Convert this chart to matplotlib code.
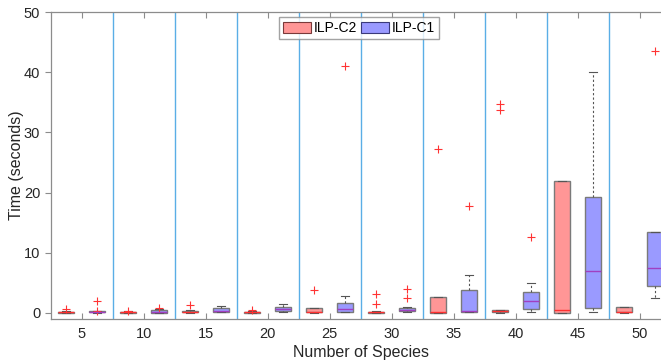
import matplotlib
matplotlib.use("Agg")
import matplotlib.pyplot as plt
from matplotlib.patches import Patch

plt.rcParams['font.family'] = ['Liberation Sans', 'DejaVu Sans']

species = [5, 10, 15, 20, 25, 30, 35, 40, 45, 50]
series_names = ["ILP-C2", "ILP-C1"]

# ILP-C2 box statistics
c2_whislo = [0.0, 0.0, 0.05, 0.0, 0.05, 0.0, 0.05, 0.05, 0.0, 0.05]
c2_q1 = [0.05, 0.05, 0.1, 0.05, 0.1, 0.05, 0.05, 0.1, 0.05, 0.1]
c2_med = [0.1, 0.1, 0.2, 0.1, 0.2, 0.1, 0.1, 0.25, 0.45, 0.15]
c2_q3 = [0.2, 0.2, 0.4, 0.15, 0.8, 0.2, 2.7, 0.5, 22.0, 0.95]
c2_whishi = [0.3, 0.3, 0.55, 0.25, 0.8, 0.25, 2.7, 0.5, 22.0, 0.95]
c2_fliers = [[0.65], [0.3], [1.35], [0.55], [3.8], [3.1, 1.45], [27.2], [34.7, 33.7], [], []]

# ILP-C1 box statistics
c1_whislo = [0.05, 0.05, 0.1, 0.15, 0.1, 0.1, 0.15, 0.17, 0.17, 2.45]
c1_q1 = [0.1, 0.05, 0.15, 0.3, 0.15, 0.25, 0.2, 0.6, 0.85, 4.45]
c1_med = [0.15, 0.2, 0.4, 0.6, 0.6, 0.5, 0.3, 1.95, 6.95, 7.45]
c1_q3 = [0.25, 0.45, 0.75, 0.95, 1.6, 0.85, 3.8, 3.45, 19.2, 13.4]
c1_whishi = [0.3, 0.6, 1.15, 1.45, 2.8, 0.95, 6.25, 4.95, 40.0, 13.4]
c1_fliers = [[2.0, 0.3], [0.9], [], [], [41.1], [4.0, 2.55], [17.8], [12.6], [], [43.6]]


def make_stats(whislo, q1, med, q3, whishi, fliers):
    return [dict(whislo=a, q1=b, med=c, q3=d, whishi=e, fliers=f)
            for a, b, c, d, e, f in zip(whislo, q1, med, q3, whishi, fliers)]


fig = plt.figure(figsize=(6.61, 3.62), dpi=100)
ax = fig.add_axes([50.7 / 661, 43 / 362, 620 / 661, 307 / 362])

offset = 1.25
specs = [
    (make_stats(c2_whislo, c2_q1, c2_med, c2_q3, c2_whishi, c2_fliers), -offset,
     '#ff9696', '#ff3030'),
    (make_stats(c1_whislo, c1_q1, c1_med, c1_q3, c1_whishi, c1_fliers), offset,
     '#9a9aff', '#a040c0'),
]
for stats, off, fc, mc in specs:
    ax.bxp(stats, positions=[s + off for s in species], widths=1.3,
           capwidths=0.6, patch_artist=True, manage_ticks=False,
           boxprops=dict(facecolor=fc, edgecolor='#7a7a7a', linewidth=1.0),
           medianprops=dict(color=mc, linewidth=1.0),
           whiskerprops=dict(color='#555555', linestyle=(0, (2, 2)), linewidth=0.8),
           capprops=dict(color='#555555', linewidth=0.8),
           flierprops=dict(marker='+', markeredgecolor='#ff3333', markersize=6,
                           markeredgewidth=0.8, linestyle='none'))

for s in species[:-1]:
    ax.axvline(s + 2.5, color='#5aaee6', linewidth=1.0, zorder=0)

ax.set_xlim(2.5, 52.5)
ax.set_ylim(-1, 50)
ax.set_xticks(species)
ax.set_yticks([0, 10, 20, 30, 40, 50])
ax.tick_params(axis='x', direction='in', top=True, length=4, color='#8c8c8c',
               labelsize=10.5, labelcolor='#262626', pad=6)
ax.tick_params(axis='y', direction='out', length=4, color='#8c8c8c',
               labelsize=10.5, labelcolor='#262626')
for side in ['left', 'bottom', 'top', 'right']:
    ax.spines[side].set_color('#8c8c8c')
    ax.spines[side].set_linewidth(0.9)

ax.set_xlabel('Number of Species', fontsize=11.5, color='#262626', labelpad=3)
ax.set_ylabel('Time (seconds)', fontsize=11.5, color='#262626', labelpad=0)

handles = [Patch(facecolor='#ff9696', edgecolor='#7a3a3a', linewidth=0.8),
           Patch(facecolor='#9a9aff', edgecolor='#3a3a7a', linewidth=0.8)]
fig.legend(handles, series_names, loc='upper left', ncol=2,
           bbox_to_anchor=(279 / 661, 1 - 17 / 362), fontsize=10,
           frameon=True, fancybox=False, edgecolor='#8c8c8c',
           handlelength=2.0, handleheight=0.9, handletextpad=0.2,
           columnspacing=0.3, borderpad=0.3, borderaxespad=0)

fig.savefig('out.png', dpi=100)
